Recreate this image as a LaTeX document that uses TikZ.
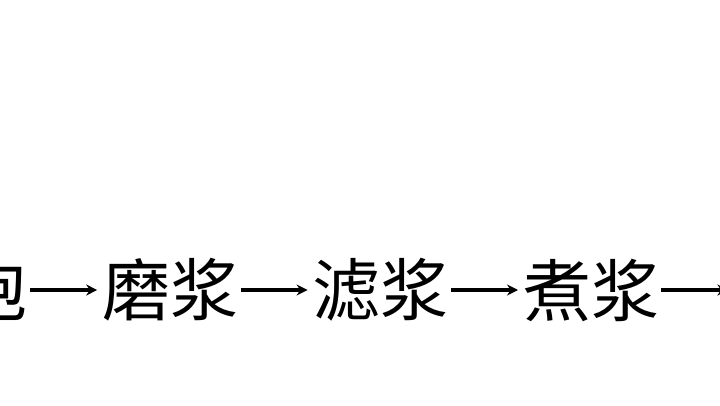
\documentclass[tikz,border=0pt]{standalone}
\usepackage{fontspec}
\newfontfamily\cjk{Noto Sans CJK SC}
\usetikzlibrary{positioning,arrows.meta}
\tikzset{
  step word/.style={inner sep=0pt, font=\cjk\fontsize{68}{68}\selectfont, minimum width=140pt},
  flow arrow/.style={-{Stealth[length=11pt,width=11pt]}, line width=4pt, shorten >=3pt}
}
\begin{document}
\begin{tikzpicture}[x=1pt,y=1pt]
        \useasboundingbox (0,0) rectangle (720,405);
        \clip (0,0) rectangle (720,405);
        \fill[white] (0,0) rectangle (720,405);

        % the steps of the process
        \node[step word] (jinpao) at (-40,115) {浸泡};
        \node[step word, right=70pt of jinpao] (mojiang) {磨浆};
        \node[step word, right=70pt of mojiang] (lvjiang) {滤浆};
        \node[step word, right=70pt of lvjiang] (zhujiang) {煮浆};
        \coordinate[right=70pt of zhujiang.east] (next);

        % arrows between the steps
        \draw[flow arrow] (jinpao.east) -- (mojiang.west);
        \draw[flow arrow] (mojiang.east) -- (lvjiang.west);
        \draw[flow arrow] (lvjiang.east) -- (zhujiang.west);
        \draw[flow arrow] (zhujiang.east) -- (next);
    \end{tikzpicture}
\end{document}
